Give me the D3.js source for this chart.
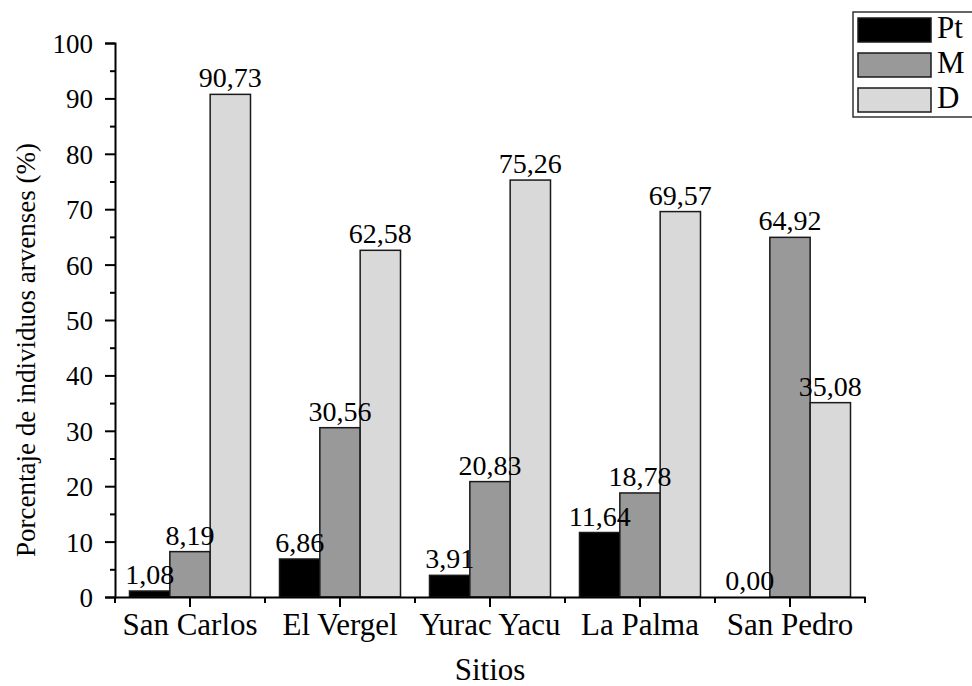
<!DOCTYPE html>
<html>
<head>
<meta charset="utf-8">
<script src="https://cdn.jsdelivr.net/npm/d3@7"></script>
<style>
  body { margin: 0; background: #fff; }
  svg text { font-family: "Liberation Serif", "Times New Roman", "DejaVu Serif", serif; fill: #000; }
</style>
</head>
<body>
<svg id="chart" width="972" height="686"></svg>
<script>
const sites = ["San Carlos", "El Vergel", "Yurac Yacu", "La Palma", "San Pedro"];
const seriesNames = ["Pt", "M", "D"];
const ptValues = [1.08, 6.86, 3.91, 11.64, 0.00];
const mValues = [8.19, 30.56, 20.83, 18.78, 64.92];
const dValues = [90.73, 62.58, 75.26, 69.57, 35.08];
const yTickValues = [0, 10, 20, 30, 40, 50, 60, 70, 80, 90, 100];
const yMinorValues = [5, 15, 25, 35, 45, 55, 65, 75, 85, 95];

const colors = { Pt: "#000000", M: "#999999", D: "#d9d9d9" };
const valuesBySeries = { Pt: ptValues, M: mValues, D: dValues };

const rows = [];
sites.forEach((s, i) => {
  seriesNames.forEach(k => rows.push({ site: s, key: k, value: valuesBySeries[k][i] }));
});

const fmt = d3.formatLocale({ decimal: ",", thousands: ".", grouping: [3], currency: ["", ""] }).format(".2f");

const svg = d3.select("#chart");

const x = d3.scaleBand().domain(sites).range([115, 865]);
const xs = d3.scaleBand().domain(seriesNames).range([14.5, 135.5]);
const y = d3.scaleLinear().domain([0, 100]).range([597, 43]);

// bars
svg.append("g").selectAll("rect")
  .data(rows)
  .join("rect")
  .attr("x", d => x(d.site) + xs(d.key))
  .attr("y", d => y(d.value))
  .attr("width", xs.bandwidth())
  .attr("height", d => y(0) - y(d.value))
  .attr("fill", d => colors[d.key])
  .attr("stroke", "#1a1a1a")
  .attr("stroke-width", 1.5);

// value labels
svg.append("g").selectAll("text")
  .data(rows)
  .join("text")
  .attr("x", d => x(d.site) + xs(d.key) + xs.bandwidth() / 2)
  .attr("y", d => y(d.value) - 7)
  .attr("text-anchor", "middle")
  .style("font-size", "28px")
  .text(d => fmt(d.value));

// y axis
const yAxis = svg.append("g")
  .attr("transform", "translate(115,0)")
  .call(d3.axisLeft(y).tickValues(yTickValues).tickSize(10).tickPadding(12));
yAxis.selectAll("text").style("font-size", "27px").attr("dy", "0.35em");
svg.append("g")
  .attr("transform", "translate(115,0)")
  .call(d3.axisLeft(y).tickValues(yMinorValues).tickSize(5).tickFormat(""))
  .call(g => g.select(".domain").remove());

// x axis
const xAxis = svg.append("g")
  .attr("transform", "translate(0,597)")
  .call(d3.axisBottom(x).tickSize(10).tickSizeOuter(0));
xAxis.selectAll("text").style("font-size", "31px").attr("y", 38).attr("dy", 0);
svg.append("g")
  .attr("transform", "translate(0,597)")
  .selectAll("line")
  .data(sites.map(s => x(s)).concat([x.range()[1]]))
  .join("line")
  .attr("x1", d => d).attr("x2", d => d)
  .attr("y1", 0).attr("y2", 6)
  .attr("stroke", "#000").attr("stroke-width", 2);

svg.selectAll(".domain").attr("stroke-width", 2);
svg.selectAll(".tick line").attr("stroke-width", 2);
svg.selectAll("g").attr("font-family", null);

// axis titles
svg.append("text")
  .attr("transform", "translate(35,350) rotate(-90)")
  .attr("text-anchor", "middle")
  .style("font-size", "27px")
  .text("Porcentaje de individuos arvenses (%)");

svg.append("text")
  .attr("x", 490)
  .attr("y", 680)
  .attr("text-anchor", "middle")
  .style("font-size", "31px")
  .text("Sitios");

// legend
const legend = svg.append("g");
legend.append("rect")
  .attr("x", 853).attr("y", 12)
  .attr("width", 130).attr("height", 105)
  .attr("fill", "#fff").attr("stroke", "#333").attr("stroke-width", 1.5);
const items = legend.selectAll("g.item")
  .data(seriesNames)
  .join("g")
  .attr("class", "item")
  .attr("transform", (d, i) => `translate(858,${18 + i * 35})`);
items.append("rect")
  .attr("width", 73).attr("height", 24)
  .attr("fill", d => colors[d])
  .attr("stroke", "#1a1a1a").attr("stroke-width", 1.5);
items.append("text")
  .attr("x", 79).attr("y", 20)
  .style("font-size", "31px")
  .text(d => d);
</script>
</body>
</html>
